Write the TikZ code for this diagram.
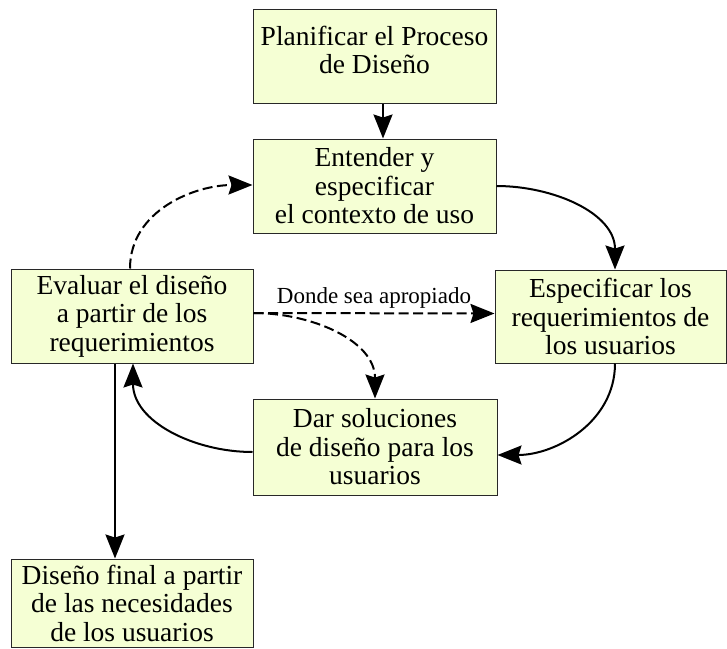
\documentclass[tikz,border=0pt]{standalone}
\usepackage{fontspec}
\setmainfont{Liberation Serif}
\usetikzlibrary{arrows.meta,calc}
\definecolor{boxfill}{RGB}{245,255,212}
\definecolor{boxline}{RGB}{40,40,40}
\tikzset{
  box/.style={draw=boxline,line width=1pt,fill=boxfill,rectangle,align=center,
    inner sep=0pt,font=\fontsize{27.5}{28.5}\selectfont},
  conn/.style={line width=2pt,-{Stealth[length=24pt,width=19pt,inset=3pt]}},
  dconn/.style={conn,dash pattern=on 10pt off 4.5pt},
}
\begin{document}
\begin{tikzpicture}[x=1pt,y=1pt]
\useasboundingbox (0,0) rectangle (727,-648);
\node[box,minimum width=243pt,minimum height=94pt] (plan) at (374.5,-56) {Planificar el Proceso\\de Diseño\\[-16pt]\mbox{}};
\node[box,minimum width=243pt,minimum height=94pt] (ent) at (374.5,-186) {Entender y\\especificar\\el contexto de uso};
\node[box,minimum width=242pt,minimum height=94pt] (eval) at (132,-316) {Evaluar el diseño\\a partir de los\\requerimientos};
\node[box,minimum width=231pt,minimum height=93pt] (esp) at (610.5,-316.5) {Especificar los\\requerimientos de\\los usuarios};
\node[box,minimum width=244pt,minimum height=96pt] (dar) at (375,-447) {Dar soluciones\\de diseño para los\\usuarios};
\node[box,minimum width=242pt,minimum height=88pt] (fin) at (132,-603) {Diseño final a partir\\de las necesidades\\de los usuarios};

\draw[conn] ([xshift=8.5pt]plan.south) -- ([xshift=8.5pt]ent.north);
\draw[conn] (ent.east) to[out=0,in=90] ([xshift=4.5pt]esp.north);
\draw[conn] ([xshift=4.5pt]esp.south) to[out=-90,in=0] ([yshift=-8pt]dar.east);
\draw[conn] ([yshift=-5pt]dar.west) to[out=180,in=-90] ([xshift=1pt]eval.south);
\draw[conn] ([xshift=-17pt]eval.south) -- ([xshift=-17pt]fin.north);
\draw[dconn] ([xshift=-2pt]eval.north) to[out=90,in=180] ([yshift=1pt]ent.west);
\draw[dconn] ([yshift=3pt]eval.east) -- node[above,font=\fontsize{23}{25}\selectfont,yshift=1pt] (lbl) {Donde sea apropiado} ([yshift=3pt]esp.west);
\draw[dconn] ([yshift=3pt]eval.east) to[out=0,in=90] (dar.north);
\end{tikzpicture}
\end{document}
